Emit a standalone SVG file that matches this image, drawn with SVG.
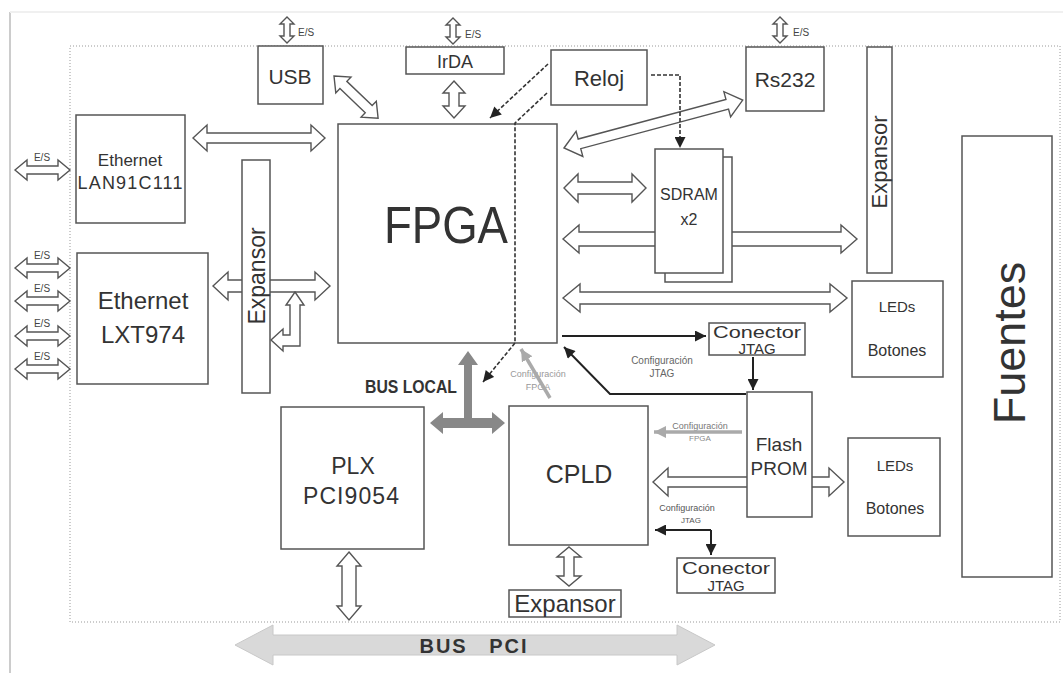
<svg xmlns="http://www.w3.org/2000/svg" xmlns:xlink="http://www.w3.org/1999/xlink" width="1063" height="673" viewBox="0 0 1063 673">
<style>
.box{fill:#fff;stroke:#555;stroke-width:1.5}
.hol{fill:#fff;stroke:#555;stroke-width:1.4;stroke-linejoin:miter}
.t{font-family:"Liberation Sans",Arial,sans-serif;fill:#333;text-anchor:middle}
.es{font-family:"Liberation Sans",Arial,sans-serif;fill:#444;font-size:10px}
.cfg{font-family:"Liberation Sans",Arial,sans-serif;text-anchor:middle}
.blk{fill:none;stroke:#222;stroke-width:2}
.dsh{fill:none;stroke:#333;stroke-width:1.6;stroke-dasharray:4 2}
.gry{fill:none;stroke:#aaa;stroke-width:3.5}
</style>
<defs>
<marker id="ah" viewBox="0 0 10 10" refX="10" refY="5" markerWidth="12" markerHeight="11" markerUnits="userSpaceOnUse" orient="auto"><path d="M0 0 L10 5 L0 10 Z" fill="#222"/></marker>
<marker id="ahg" viewBox="0 0 10 10" refX="10" refY="5" markerWidth="12" markerHeight="12" markerUnits="userSpaceOnUse" orient="auto"><path d="M0 0 L10 5 L0 10 Z" fill="#aaa"/></marker>
<path id="esh" d="M15 0 L27 -10 L27 -4 L58 -4 L58 -10 L70 0 L58 10 L58 4 L27 4 L27 10 Z"/>
<path id="esv" d="M0 0 L7 7 L3 7 L3 19 L7 19 L0 26 L-7 19 L-3 19 L-3 7 L-7 7 Z"/>
</defs>
<rect width="1063" height="673" fill="#fff"/>
<g id="frame">
<line x1="10" y1="12" x2="10" y2="673" stroke="#ccc" stroke-width="2"/>
<line x1="10" y1="12" x2="1063" y2="12" stroke="#f0f0f0" stroke-width="2"/>
<rect x="70" y="46" width="990" height="576" fill="none" stroke="#999" stroke-width="1" stroke-dasharray="1 2"/>
</g>
<g id="connectors">
<g class="hol">
<use xlink:href="#esv" x="287" y="17"/>
<use xlink:href="#esv" x="453" y="18"/>
<use xlink:href="#esv" x="780" y="17"/>
<use xlink:href="#esh" y="170"/>
<use xlink:href="#esh" y="268"/>
<use xlink:href="#esh" y="301"/>
<use xlink:href="#esh" y="336"/>
<use xlink:href="#esh" y="369"/>
<path d="M193 138 L207 125 L207 133 L311 133 L311 125 L325 138 L311 151 L311 143 L207 143 L207 151 Z"/>
<path d="M213 286 L228 272 L228 280 L315 280 L315 272 L330 286 L315 300 L315 292 L228 292 L228 300 Z"/>
<path d="M295 292 L304 305 L300 305 L300 346 L283 346 L283 351 L271 340 L283 329 L283 335 L290 335 L290 305 L286 305 Z"/>
<path transform="translate(334 76) rotate(43.7)" d="M0 0 L13 -11 L13 -5 L48 -5 L48 -11 L61 0 L48 11 L48 5 L13 5 L13 11 Z"/>
<path d="M454 81 L465 93 L459 93 L459 106 L465 106 L454 118 L443 106 L449 106 L449 93 L443 93 Z"/>
<path transform="translate(564 148) rotate(-15)" d="M0 0 L16 -13 L16 -5 L169 -5 L169 -13 L185 0 L169 13 L169 5 L16 5 L16 13 Z"/>
<path d="M564 188 L578 174 L578 182 L632 182 L632 174 L646 188 L632 202 L632 194 L578 194 L578 202 Z"/>
<path d="M563 239 L579 225 L579 232 L841 232 L841 225 L857 239 L841 253 L841 246 L579 246 L579 253 Z"/>
<path d="M563 298 L580 284 L580 292 L830 292 L830 284 L847 298 L830 312 L830 304 L580 304 L580 312 Z"/>
<path d="M653 482 L668 468 L668 477 L829 477 L829 468 L844 482 L829 496 L829 487 L668 487 L668 496 Z"/>
<path d="M349 552 L361 566 L356 566 L356 606 L361 606 L349 620 L337 606 L342 606 L342 566 L337 566 Z"/>
<path d="M569 547 L581 557 L574 557 L574 576 L581 576 L569 586 L557 576 L564 576 L564 557 L557 557 Z"/>
</g>
<path d="M235 645 L273 625 L273 635 L677 635 L677 625 L715 645 L677 665 L677 655 L273 655 L273 665 Z" fill="#d9d9d9" stroke="#c8c8c8" stroke-width="1"/>
<path d="M468 351 L478 365 L472 365 L472 418 L492 418 L492 412 L505 423 L492 434 L492 428 L443 428 L443 434 L430 423 L443 412 L443 418 L464 418 L464 365 L458 365 Z" fill="#888"/>
</g>
<g id="usb"><rect class="box" x="258" y="46" width="65" height="58"/><text class="t" x="290" y="84" font-size="21">USB</text></g>
<g id="irda"><rect class="box" x="406" y="47" width="98" height="27"/><text class="t" x="455" y="68" font-size="18">IrDA</text></g>
<g id="reloj"><rect class="box" x="551" y="50" width="96" height="55"/><text class="t" x="599" y="86" font-size="22">Reloj</text></g>
<g id="rs232"><rect class="box" x="746" y="47" width="78" height="64"/><text class="t" x="785" y="87" font-size="21">Rs232</text></g>
<g id="expansor-r"><rect class="box" x="867" y="47" width="25" height="226"/><text class="t" transform="translate(887 162) rotate(-90)" font-size="22">Expansor</text></g>
<g id="fuentes"><rect class="box" x="962" y="136" width="90" height="441"/><text class="t" transform="translate(1025 343) rotate(-90)" font-size="45">Fuentes</text></g>
<g id="lan"><rect class="box" x="76" y="115" width="109" height="108"/><text class="t" x="130" y="166" font-size="17">Ethernet</text><text class="t" x="130" y="189" font-size="18" textLength="105">LAN91C111</text></g>
<g id="lxt"><rect class="box" x="77" y="253" width="131" height="131"/><text class="t" x="143" y="309" font-size="24">Ethernet</text><text class="t" x="143" y="343" font-size="24">LXT974</text></g>
<g id="expansor-l"><rect class="box" x="242" y="160" width="28" height="233"/><text class="t" transform="translate(265 276) rotate(-90)" font-size="23">Expansor</text></g>
<g id="fpga"><rect class="box" x="338" y="124" width="219" height="219"/><text class="t" x="446" y="243" font-size="52" textLength="124" lengthAdjust="spacingAndGlyphs" fill="#222">FPGA</text></g>
<g id="sdram"><rect class="box" x="665" y="157" width="67" height="125"/><rect class="box" x="655" y="149" width="68" height="124"/><text class="t" x="689" y="200" font-size="16">SDRAM</text><text class="t" x="689" y="225" font-size="16">x2</text></g>
<g id="leds1"><rect class="box" x="852" y="281" width="91" height="96"/><text class="t" x="897" y="312" font-size="15">LEDs</text><text class="t" x="897" y="356" font-size="16">Botones</text></g>
<g id="jtag1"><rect class="box" x="709" y="323" width="96" height="32"/><text class="t" x="757" y="338" font-size="17" textLength="88" lengthAdjust="spacingAndGlyphs">Conector</text><text class="t" x="757" y="354" font-size="15">JTAG</text></g>
<g id="flash"><rect class="box" x="747" y="392" width="65" height="125"/><text class="t" x="779" y="451" font-size="19">Flash</text><text class="t" x="779" y="475" font-size="19">PROM</text></g>
<g id="leds2"><rect class="box" x="848" y="438" width="92" height="98"/><text class="t" x="895" y="471" font-size="15">LEDs</text><text class="t" x="895" y="514" font-size="16">Botones</text></g>
<g id="plx"><rect class="box" x="281" y="407" width="143" height="142"/><text class="t" x="353" y="474" font-size="23">PLX</text><text class="t" x="351" y="504" font-size="23" textLength="96">PCI9054</text></g>
<g id="cpld"><rect class="box" x="509" y="406" width="139" height="139"/><text class="t" x="579" y="483" font-size="25">CPLD</text></g>
<g id="jtag2"><rect class="box" x="677" y="558" width="98" height="35"/><text class="t" x="726" y="574" font-size="17" textLength="88" lengthAdjust="spacingAndGlyphs">Conector</text><text class="t" x="726" y="591" font-size="15">JTAG</text></g>
<g id="expansor-b"><rect class="box" x="509" y="590" width="112" height="27" stroke-width="2"/><text class="t" x="565" y="612" font-size="24">Expansor</text></g>
<g id="labels">
<text class="es" x="298" y="36">E/S</text>
<text class="es" x="465" y="38">E/S</text>
<text class="es" x="793" y="36">E/S</text>
<text class="es" x="42" y="161" text-anchor="middle">E/S</text>
<text class="es" x="42" y="259" text-anchor="middle">E/S</text>
<text class="es" x="42" y="292" text-anchor="middle">E/S</text>
<text class="es" x="42" y="327" text-anchor="middle">E/S</text>
<text class="es" x="42" y="360" text-anchor="middle">E/S</text>
<text class="t" x="411" y="393" font-size="18" font-weight="bold" textLength="92" lengthAdjust="spacingAndGlyphs" fill="#444">BUS LOCAL</text>
<text class="t" x="474" y="653" font-size="20" font-weight="bold" fill="#444" word-spacing="14" letter-spacing="2">BUS PCI</text>
<text class="cfg" x="538" y="377" font-size="9" fill="#999">Configuración</text>
<text class="cfg" x="538" y="390" font-size="9" fill="#999">FPGA</text>
<text class="cfg" x="662" y="364" font-size="10" fill="#666">Configuración</text>
<text class="cfg" x="662" y="377" font-size="10" fill="#666">JTAG</text>
<text class="cfg" x="700" y="429" font-size="9" fill="#777">Configuración</text>
<text class="cfg" x="700" y="441" font-size="8" fill="#888">FPGA</text>
<text class="cfg" x="687" y="511" font-size="9" fill="#555">Configuración</text>
<text class="cfg" x="691" y="523" font-size="8" fill="#555">JTAG</text>
</g>
<g id="signal-connectors">
<line class="dsh" x1="548" y1="64" x2="490" y2="118" marker-end="url(#ah)"/>
<polyline class="dsh" points="547,93 515,123 515,343 483,382" marker-end="url(#ah)"/>
<polyline class="dsh" points="651,75 680,75 680,148" marker-end="url(#ah)"/>
<line class="blk" x1="562" y1="336" x2="706" y2="336" marker-end="url(#ah)"/>
<line class="blk" x1="753" y1="357" x2="753" y2="390" marker-end="url(#ah)"/>
<polyline class="blk" points="746,394 610,394 564,347" marker-end="url(#ah)"/>
<polyline class="blk" points="711,530 655,530" marker-end="url(#ah)"/>
<polyline class="blk" points="711,530 711,555" marker-end="url(#ah)"/>
<line class="gry" x1="550" y1="398" x2="521" y2="349" marker-end="url(#ahg)"/>
<line class="gry" x1="742" y1="432" x2="654" y2="432" marker-end="url(#ahg)"/>
</g>
</svg>
